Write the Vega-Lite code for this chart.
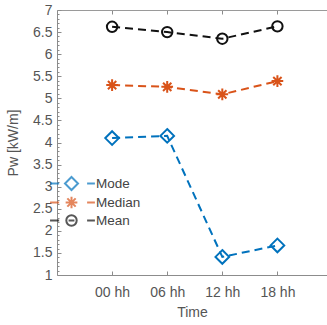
{
  "$schema": "https://vega.github.io/schema/vega-lite/v6.json",
  "usermeta": {"embedOptions": {"actions": false}},
  "width": 270,
  "height": 265,
  "autosize": "none",
  "padding": {"left": 57, "top": 10, "right": 0, "bottom": 44},
  "background": "white",
  "config": {
    "view": {"stroke": null},
    "font": "Liberation Sans",
    "axis": {
      "grid": false,
      "domainColor": "#8c8c8c",
      "tickColor": "#8c8c8c",
      "labelColor": "#555555",
      "labelFontSize": 14,
      "titleFontSize": 14,
      "titleFontWeight": "normal",
      "titleColor": "#555555",
      "domainWidth": 1,
      "tickWidth": 1
    }
  },
  "data": {
    "values": [
      {"series": "Mode", "hour": 0, "pw": 4.10},
      {"series": "Mode", "hour": 6, "pw": 4.15},
      {"series": "Mode", "hour": 12, "pw": 1.41},
      {"series": "Mode", "hour": 18, "pw": 1.67},
      {"series": "Median", "hour": 0, "pw": 5.30},
      {"series": "Median", "hour": 6, "pw": 5.26},
      {"series": "Median", "hour": 12, "pw": 5.09},
      {"series": "Median", "hour": 18, "pw": 5.39},
      {"series": "Mean", "hour": 0, "pw": 6.62},
      {"series": "Mean", "hour": 6, "pw": 6.50},
      {"series": "Mean", "hour": 12, "pw": 6.35},
      {"series": "Mean", "hour": 18, "pw": 6.63}
    ]
  },
  "resolve": {"axis": {"x": "independent", "y": "independent"}},
  "layer": [
    {
      "mark": {"type": "line", "strokeDash": [8, 5], "strokeWidth": 2},
      "encoding": {
        "x": {
          "field": "hour", "type": "quantitative",
          "scale": {"domain": [-6, 23.4], "nice": false, "zero": false},
          "axis": {"orient": "bottom", "values": [0, 6, 12, 18], "labelExpr": "(datum.value < 10 ? '0' : '') + datum.value + ' hh'", "title": "Time", "tickSize": -4, "labelPadding": 14, "titlePadding": 6}
        },
        "y": {
          "field": "pw", "type": "quantitative",
          "scale": {"domain": [1, 7], "nice": false, "zero": false},
          "axis": {"orient": "left", "values": [1, 1.5, 2, 2.5, 3, 3.5, 4, 4.5, 5, 5.5, 6, 6.5, 7], "format": "~g", "title": "Pw [kW/m]", "tickSize": -4, "labelPadding": 9, "titlePadding": 12}
        },
        "color": {
          "field": "series", "type": "nominal",
          "scale": {"domain": ["Mode", "Median", "Mean"], "range": ["#0072BD", "#D95319", "#111111"]},
          "legend": {
            "orient": "none", "legendX": 7, "legendY": 166, "title": null,
            "symbolSize": 169, "symbolStrokeWidth": 2, "symbolDash": [],
            "symbolFillColor": "transparent",
            "labelFontSize": 13.5, "labelColor": "#444444", "labelOffset": 17,
            "rowPadding": -2, "padding": 0
          }
        }
      }
    },
    {
      "transform": [{"filter": "datum.pw > 100"}],
      "mark": {"type": "point", "filled": false, "strokeWidth": 2, "size": 169},
      "encoding": {
        "x": {"field": "hour", "type": "quantitative", "axis": null},
        "y": {"field": "pw", "type": "quantitative", "axis": null},
        "color": {"field": "series", "type": "nominal"},
        "shape": {
          "field": "series", "type": "nominal",
          "scale": {"domain": ["Mode", "Median", "Mean"], "range": [
            "M-3.3,0H-1.9M2.4,0H3.6M0,-1L1,0L0,1L-1,0Z",
            "M-3.3,0H-1.9M2.4,0H3.6M-0.9,0H0.9M0,-0.9V0.9M-0.64,-0.64L0.64,0.64M-0.64,0.64L0.64,-0.64",
            "M-3.3,0H-1.9M2.4,0H3.6M-0.45,0H0.45M-0.8,0A0.8,0.8 0 1,0 0.8,0A0.8,0.8 0 1,0 -0.8,0Z"]}
        }
      }
    },
    {
      "mark": {"type": "point", "filled": false, "strokeWidth": 2, "size": 169, "opacity": 1},
      "encoding": {
        "x": {"field": "hour", "type": "quantitative", "axis": null},
        "y": {"field": "pw", "type": "quantitative", "axis": null},
        "color": {"field": "series", "type": "nominal"},
        "shape": {
          "condition": [
            {"test": "datum.series === 'Mode'", "value": "M0,-1.05L1.05,0L0,1.05L-1.05,0Z"},
            {"test": "datum.series === 'Median'", "value": "M-0.9,0H0.9M0,-0.9V0.9M-0.64,-0.64L0.64,0.64M-0.64,0.64L0.64,-0.64"}
          ],
          "value": "M-0.8,0A0.8,0.8 0 1,0 0.8,0A0.8,0.8 0 1,0 -0.8,0Z"
        }
      }
    },
    {
      "mark": {"type": "point", "opacity": 0},
      "encoding": {
        "x": {
          "field": "hour", "type": "quantitative",
          "axis": {"orient": "top", "values": [0, 6, 12, 18], "labels": false, "title": null, "tickSize": -4, "domainColor": "#9a9a9a", "tickColor": "#8b8b8b"}
        },
        "y": {
          "field": "pw", "type": "quantitative",
          "axis": {"orient": "left", "values": [1.1, 1.2, 1.3, 1.4, 1.6, 1.7, 1.8, 1.9, 2.1, 2.2, 2.3, 2.4, 2.6, 2.7, 2.8, 2.9, 3.1, 3.2, 3.3, 3.4, 3.6, 3.7, 3.8, 3.9, 4.1, 4.2, 4.3, 4.4, 4.6, 4.7, 4.8, 4.9, 5.1, 5.2, 5.3, 5.4, 5.6, 5.7, 5.8, 5.9, 6.1, 6.2, 6.3, 6.4, 6.6, 6.7, 6.8, 6.9], "labels": false, "title": null, "domain": false, "tickSize": -2, "tickColor": "#8b8b8b"}
        }
      }
    }
  ]
}
